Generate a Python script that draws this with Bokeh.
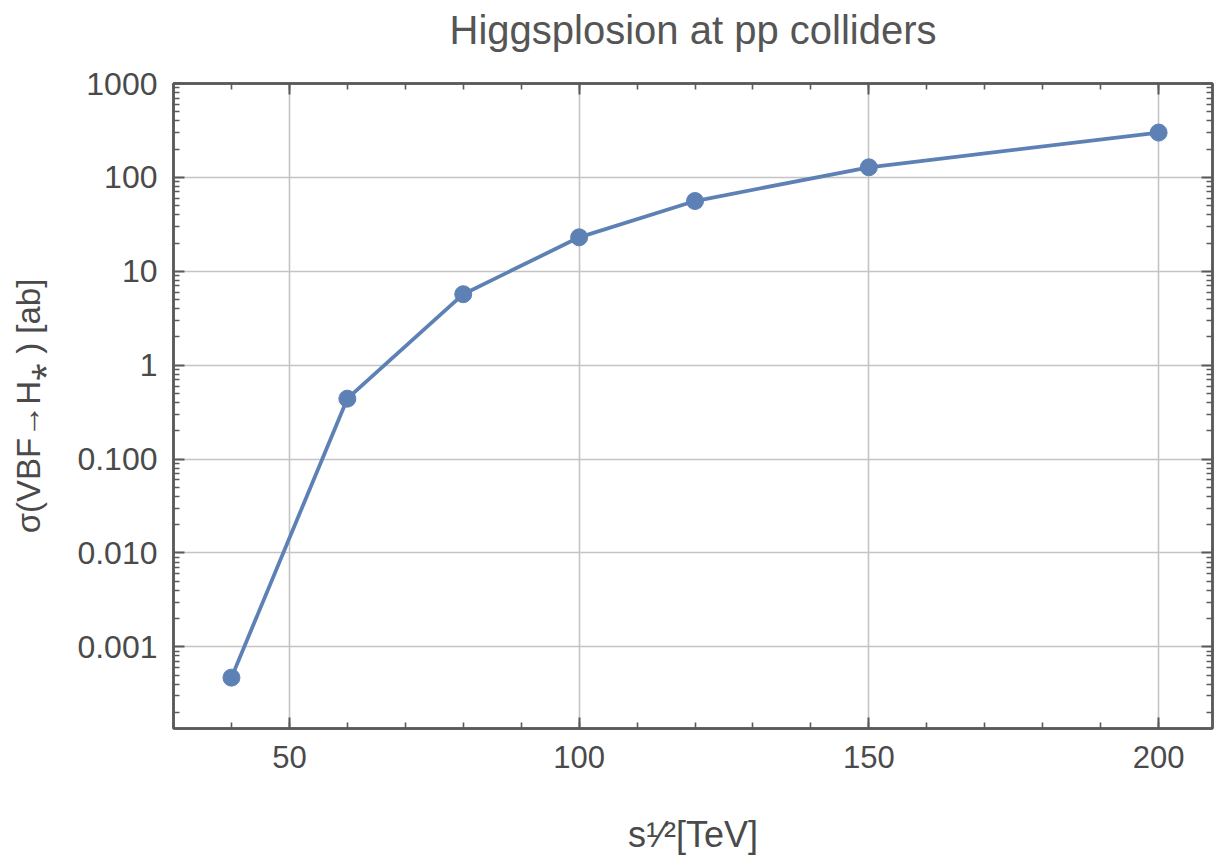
from bokeh.plotting import figure
from bokeh.models import Range1d, FixedTicker, CustomJSTickFormatter, LinearAxis, LogAxis
from bokeh.embed import file_html
from bokeh.resources import INLINE

# ---- data ----
energy_tev = [40, 60, 80, 100, 120, 150, 200]
sigma_ab = [4.7e-4, 0.44, 5.7, 23.0, 56.0, 128.0, 300.0]

x_major_ticks = [50, 100, 150, 200]
x_tick_labels = ["50", "100", "150", "200"]
y_major_ticks = [0.001, 0.01, 0.1, 1, 10, 100, 1000]
y_tick_labels = ["0.001", "0.010", "0.100", "1", "10", "100", "1000"]

title_text = "Higgsplosion at pp colliders"
y_label_text = "σ(VBF→H⁎ ) [ab]"
x_label_text = "s¹⁄²[TeV]"

# ---- styling ----
FONT = "Liberation Sans"
BLUE = "#5E81B5"
FRAME = "#5a5a5a"
TEXT = "#4a4a4a"
GRID = "#c4c4c4"

x_minor = list(range(30, 211, 10))
y_minor = [m * 10.0 ** d for d in range(-4, 3) for m in range(2, 10)]

p = figure(width=1220, height=860, output_backend="svg", toolbar_location=None,
           y_axis_type="log",
           x_range=Range1d(30, 209.3), y_range=Range1d(1.35e-4, 1000),
           min_border_left=173, min_border_right=8, min_border_top=83, min_border_bottom=132)

p.title.text = title_text
p.title.align = "center"
p.title.text_font = FONT
p.title.text_font_size = "40px"
p.title.text_font_style = "normal"
p.title.text_color = "#555555"
p.title.standoff = 6

p.background_fill_color = "white"
p.border_fill_color = "white"
p.outline_line_color = FRAME
p.outline_line_width = 2.5

xfmt = CustomJSTickFormatter(args=dict(vals=x_major_ticks, labs=x_tick_labels), code="""
const i = vals.findIndex(t => Math.abs(t - tick) < 1e-9);
return i >= 0 ? labs[i] : '';
""")
yfmt = CustomJSTickFormatter(args=dict(vals=y_major_ticks, labs=y_tick_labels), code="""
const i = vals.findIndex(t => Math.abs(Math.log10(t) - Math.log10(tick)) < 1e-6);
return i >= 0 ? labs[i] : '';
""")
blank = CustomJSTickFormatter(code="return '';")
spacer = CustomJSTickFormatter(code="return ' ';")

xticker = FixedTicker(ticks=x_major_ticks, minor_ticks=x_minor)
yticker = FixedTicker(ticks=y_major_ticks, minor_ticks=y_minor)


def style_axis(ax):
    ax.axis_line_color = FRAME
    ax.axis_line_width = 2.5
    ax.major_tick_line_color = FRAME
    ax.minor_tick_line_color = FRAME
    ax.major_tick_line_width = 2
    ax.minor_tick_line_width = 1.6
    ax.major_tick_in = 11
    ax.major_tick_out = 0
    ax.minor_tick_in = 6
    ax.minor_tick_out = 0
    ax.major_label_text_font = FONT
    ax.major_label_text_font_size = "31px"
    ax.major_label_text_color = TEXT
    ax.axis_label_text_font = FONT
    ax.axis_label_text_font_style = "normal"
    ax.axis_label_text_color = TEXT


xa = p.xaxis[0]
xa.ticker = xticker
xa.formatter = xfmt
style_axis(xa)
xa.major_label_standoff = 17
xa.major_label_text_line_height = 1.0
xa.axis_label = x_label_text
xa.axis_label_text_font_size = "36px"
xa.axis_label_text_line_height = 1.0
xa.axis_label_standoff = 43

ya = p.yaxis[0]
ya.ticker = yticker
ya.formatter = yfmt
style_axis(ya)
ya.major_label_text_font_size = "32px"
ya.major_label_standoff = 16
ya.axis_label = y_label_text
ya.axis_label_text_font_size = "33px"
ya.axis_label_standoff = 27

# top frame axis: ticks only; its blank labels keep room between frame and title
top = LinearAxis(ticker=xticker, formatter=spacer)
style_axis(top)
top.major_label_text_font_size = "12px"
top.major_label_standoff = 12
p.add_layout(top, "above")

right = LogAxis(ticker=yticker, formatter=blank)
style_axis(right)
right.major_label_standoff = 0
p.add_layout(right, "right")

p.xgrid.ticker = FixedTicker(ticks=x_major_ticks)
p.ygrid.ticker = FixedTicker(ticks=y_major_ticks)
p.xgrid.grid_line_color = GRID
p.ygrid.grid_line_color = GRID
p.xgrid.grid_line_width = 1.6
p.ygrid.grid_line_width = 1.6

p.line(energy_tev, sigma_ab, line_color=BLUE, line_width=3.8)
p.scatter(energy_tev, sigma_ab, size=17, fill_color=BLUE, line_color=BLUE)

open("out.html", "w").write(file_html(p, INLINE))
